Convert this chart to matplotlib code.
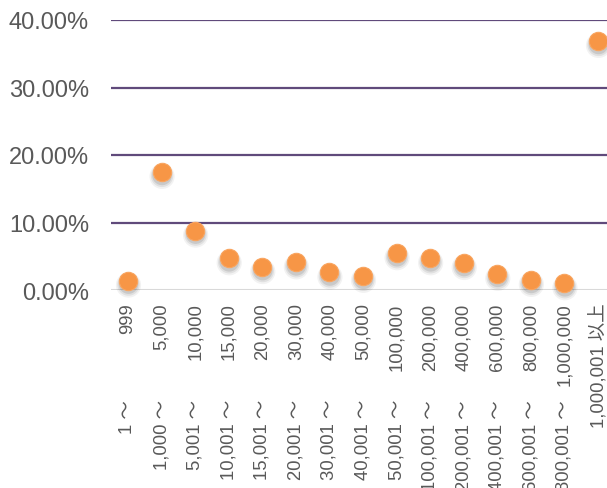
import matplotlib
matplotlib.use("Agg")
import matplotlib.pyplot as plt
from matplotlib import font_manager as fm
from matplotlib.transforms import offset_copy

# pick the regular (non-narrow) Liberation Sans
lib = [f for f in fm.fontManager.ttflist
       if f.name == 'Liberation Sans' and f.style == 'normal' and f.weight in (400, 'normal')
       and 'Narrow' not in f.fname]
if lib:
    fm.fontManager.addfont(lib[0].fname)
plt.rcParams['font.family'] = ['Liberation Sans', 'Noto Sans CJK JP', 'DejaVu Sans']
plt.rcParams['font.stretch'] = 'normal'

lower_labels = ["1", "1,000", "5,001", "10,001", "15,001", "20,001", "30,001", "40,001",
                "50,001", "100,001", "200,001", "400,001", "600,001", "800,001", ""]
upper_labels = ["999", "5,000", "10,000", "15,000", "20,000", "30,000", "40,000", "50,000",
                "100,000", "200,000", "400,000", "600,000", "800,000", "1,000,000", "1,000,001 以上"]
values = [0.014, 0.175, 0.088, 0.047, 0.034, 0.041, 0.026, 0.021,
          0.0545, 0.047, 0.040, 0.024, 0.015, 0.010, 0.369]
yticks = [0.0, 0.10, 0.20, 0.30, 0.40]

W, H = 607, 489
fig = plt.figure(figsize=(W / 100, H / 100), dpi=100)
ax = fig.add_axes([111.2 / W, (H - 291) / H, 503.6 / W, 270 / H])
ax.set_xlim(-0.5, len(values) - 0.5)
ax.set_ylim(0, 0.40)

for sp in ax.spines.values():
    sp.set_visible(False)

for y in yticks[1:]:
    ax.axhline(y, color='#604a7b', lw=1.6, zorder=1)
ax.axhline(0, color='#d9d9d9', lw=2.2, zorder=1)

xs = list(range(len(values)))
# soft shadow
for dy, a, s in [(-4.5, 0.05, 330), (-4, 0.07, 260), (-3.5, 0.10, 200)]:
    tr = offset_copy(ax.transData, fig=fig, x=0.5, y=dy, units='dots')
    ax.scatter(xs, values, s=s, color='black', alpha=a, edgecolors='none',
               transform=tr, zorder=2, clip_on=False)
ax.scatter(xs, values, s=175, color='#f79646', edgecolors='#f9a560', linewidths=0.8,
           zorder=3, clip_on=False)

ax.set_yticks(yticks)
ax.set_yticklabels([f"{v * 100:.2f}%" for v in yticks])
ax.set_xticks(xs)
ax.set_xticklabels(upper_labels, rotation=90, va='top', ha='center')
ax.tick_params(axis='y', length=0, pad=16, labelsize=17, labelcolor='#595959')
ax.tick_params(axis='x', length=0, pad=9, labelsize=13.3, labelcolor='#595959')

tr = ax.get_xaxis_transform()
for x, lab in zip(xs, lower_labels):
    if lab:
        ax.text(x, (291 - 400) / 270, lab + " ～", rotation=90, ha='center', va='top',
                fontsize=13.3, color='#595959', transform=tr, clip_on=False)

fig.savefig("out.png", dpi=100)
